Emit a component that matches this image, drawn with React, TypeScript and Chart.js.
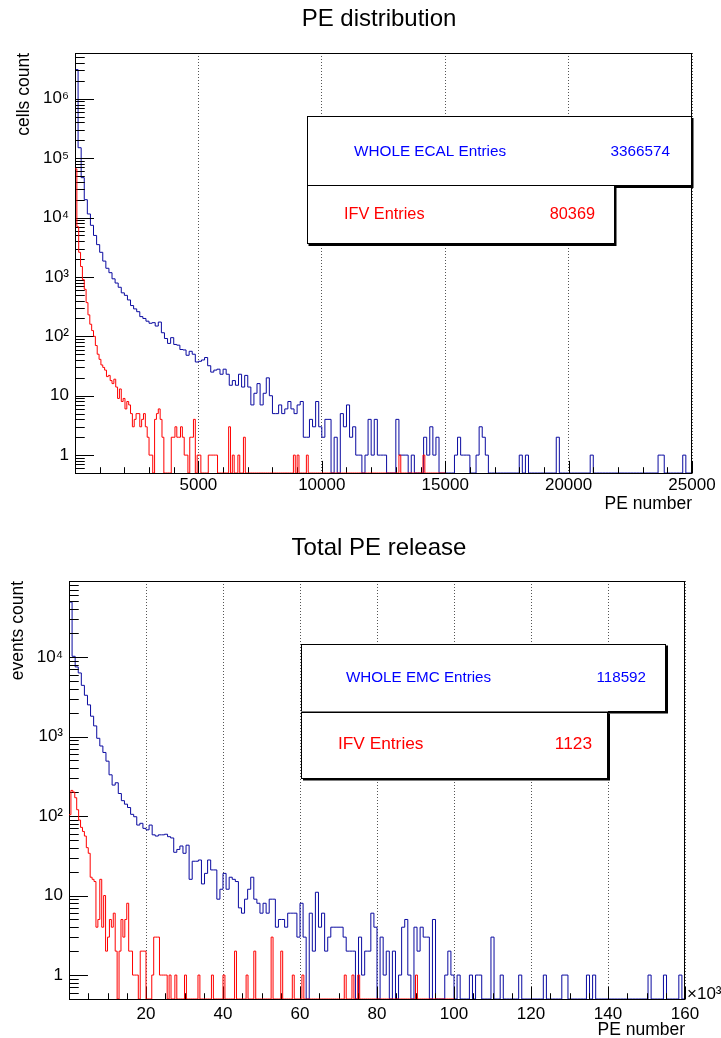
import React, { useEffect, useRef } from 'react';
import { Chart, registerables } from 'chart.js';

Chart.register(...registerables);

// ---------------- DATA ----------------
const topTitle = 'PE distribution';
const bottomTitle = 'Total PE release';

// bin widths (PE per bin)
const topBlueBinWidth = 125; // 0 .. 25000
const topRedBinWidth = 75; // 0 .. 15000
const bottomBlueBinWidth = 800; // 0 .. 160000
const bottomRedBinWidth = 500; // 0 .. 100000

const topBlueCounts = [
  3100000, 150000, 47000, 20000, 11500, 7400, 5000, 3500, 2600, 1850,
  1400, 1180, 930, 790, 670, 540, 490, 410, 330, 290,
  260, 215, 200, 180, 166, 170, 149, 174, 115, 92,
  76, 95, 73, 71, 60, 59, 48, 56, 50, 37,
  38, 40, 44, 32, 25, 27, 28, 23, 28, 23,
  15, 18, 15, 23, 14, 22, 14, 7, 11, 16,
  7, 11, 20, 10, 5, 5, 7, 5, 6, 8,
  6, 5, 7, 8, 2, 2, 4, 3, 8, 3,
  2, 4, 4, 0, 2, 0, 5, 3, 7, 2,
  3, 1, 1, 0, 1, 4, 1, 4, 1, 1,
  1, 0, 0, 0, 4, 1, 1, 1, 0, 1,
  0, 0, 0, 2, 1, 3, 1, 2, 0, 0,
  0, 0, 0, 1, 2, 1, 1, 1, 0, 0,
  1, 3, 2, 1, 0, 0, 0, 0, 0, 0,
  0, 0, 0, 0, 1, 0, 1, 0, 0, 0,
  0, 0, 0, 0, 0, 0, 2, 0, 0, 0,
  0, 0, 0, 0, 0, 0, 0, 1, 0, 0,
  0, 0, 0, 0, 0, 0, 0, 0, 0, 0,
  0, 0, 0, 0, 0, 0, 0, 0, 0, 1,
  1, 0, 0, 0, 0, 0, 0, 1, 0, 0,
];

const topRedCounts = [
  66000, 7000, 2600, 1500, 900, 620, 370, 230, 160, 125,
  100, 70, 50, 41, 33, 30, 27, 21, 22, 18,
  16, 19, 14, 9, 13, 8, 9, 6, 8, 7,
  5, 3, 4, 5, 5, 3, 4, 5, 3, 2,
  1, 1, 0, 4, 5, 6, 4, 2, 0, 0,
  0, 0, 2, 2, 3, 2, 2, 3, 2, 1,
  1, 0, 2, 2, 4, 0, 1, 1, 0, 0,
  0, 0, 1, 1, 1, 1, 1, 0, 0, 0,
  0, 0, 0, 3, 0, 1, 0, 0, 1, 0,
  0, 2, 0, 0, 0, 0, 0, 0, 0, 0,
  0, 0, 0, 0, 0, 0, 0, 0, 0, 0,
  0, 0, 0, 0, 0, 0, 0, 0, 1, 0,
  1, 0, 0, 0, 0, 1, 0, 0, 0, 0,
  0, 0, 0, 0, 0, 0, 0, 0, 0, 0,
  0, 0, 0, 0, 0, 0, 0, 0, 0, 0,
  0, 0, 0, 0, 0, 0, 0, 0, 0, 0,
  0, 0, 0, 0, 0, 0, 0, 0, 0, 0,
  0, 0, 0, 0, 0, 1, 0, 0, 0, 0,
  0, 0, 0, 0, 0, 0, 0, 0, 1, 0,
  0, 0, 0, 0, 0, 0, 0, 0, 0, 0,
];

const bottomBlueCounts = [
  49000, 10200, 7500, 6300, 4400, 3300, 2500, 1800, 1360, 950,
  760, 630, 490, 330, 245, 262, 192, 156, 141, 128,
  105, 98, 77, 81, 70, 67, 77, 58, 56, 58,
  58, 59, 55, 53, 35, 38, 42, 34, 43, 16,
  27, 27, 28, 14, 19, 28, 21, 21, 9, 12,
  19, 12, 17, 16, 15, 7, 6, 9, 12, 17,
  9, 8, 6, 8, 6, 9, 9, 4, 5, 5,
  4, 6, 6, 6, 3, 8, 3, 0, 6, 2,
  11, 4, 6, 2, 3, 4, 4, 4, 4, 3,
  2, 2, 2, 0, 3, 1, 2, 2, 6, 4,
  0, 3, 1, 2, 0, 2, 0, 1, 4, 5,
  1, 0, 4, 2, 4, 3, 3, 0, 5, 0,
  0, 0, 1, 2, 1, 0, 1, 0, 0, 0,
  1, 0, 1, 1, 0, 0, 0, 3, 0, 0,
  1, 0, 0, 0, 0, 0, 1, 0, 0, 0,
  0, 0, 0, 0, 1, 0, 0, 0, 0, 0,
  1, 1, 0, 0, 0, 0, 0, 0, 1, 0,
  1, 0, 0, 0, 0, 0, 0, 0, 0, 0,
  0, 0, 0, 0, 0, 0, 0, 0, 1, 0,
  0, 0, 0, 1, 0, 0, 0, 0, 1, 0,
];

const bottomRedCounts = [
  104, 210, 200, 170, 120, 89, 72, 64, 56, 40,
  34, 17, 16, 15, 4, 5, 16, 4, 10, 2,
  3, 5, 4, 6, 2, 0, 2, 5, 3, 5,
  8, 2, 2, 1, 1, 1, 0, 2, 2, 2,
  0, 0, 0, 1, 3, 3, 3, 1, 1, 1,
  1, 0, 1, 0, 0, 1, 0, 0, 0, 0,
  1, 0, 0, 0, 0, 0, 0, 1, 0, 0,
  0, 0, 0, 0, 1, 0, 0, 0, 0, 0,
  1, 0, 0, 0, 0, 0, 2, 0, 0, 0,
  0, 0, 1, 0, 0, 0, 2, 0, 0, 0,
  0, 0, 0, 0, 0, 3, 0, 0, 0, 0,
  2, 0, 0, 0, 0, 0, 1, 0, 0, 0,
  0, 1, 0, 0, 0, 0, 0, 0, 0, 0,
  0, 0, 0, 0, 0, 0, 0, 0, 0, 0,
  0, 0, 0, 1, 0, 0, 0, 1, 0, 0,
  1, 0, 0, 0, 0, 0, 0, 0, 0, 0,
  0, 0, 0, 0, 0, 0, 0, 0, 0, 0,
  0, 0, 0, 0, 0, 0, 0, 0, 0, 0,
  1, 0, 0, 0, 0, 0, 0, 0, 0, 0,
  0, 0, 0, 0, 0, 0, 0, 0, 0, 0,
];

const topXTicks = [5000, 10000, 15000, 20000, 25000];
const topXTickLabels = ['5000', '10000', '15000', '20000', '25000'];
const topYTicks = [1, 10, 100, 1000, 10000, 100000, 1000000];
const topYTickLabels = ['1', '10', '10²', '10³', '10⁴', '10⁵', '10⁶'];

const bottomXTicks = [20000, 40000, 60000, 80000, 100000, 120000, 140000, 160000];
const bottomXTickLabels = ['20', '40', '60', '80', '100', '120', '140', '160'];
const bottomYTicks = [1, 10, 100, 1000, 10000];
const bottomYTickLabels = ['1', '10', '10²', '10³', '10⁴'];

const topLegendLabels = ['WHOLE ECAL Entries', 'IFV Entries'];
const topLegendValues = ['3366574', '80369'];
const bottomLegendLabels = ['WHOLE EMC Entries', 'IFV Entries'];
const bottomLegendValues = ['118592', '1123'];

// ---------------- STYLE ----------------
const FONT = "'Liberation Sans', Arial, Helvetica, sans-serif";
const HIST_BLUE = '#0a0aa0';
const HIST_RED = '#ff0000';
const TEXT_BLUE = '#0000ff';
const TEXT_RED = '#ff0000';
const W = 721;
const H = 519;

type Box = { x: number; y: number; w: number; h: number; font: number; labelX: number; valueRight: number; textY: number; color: string };

type Panel = {
  title: string; titleX: number; titleY: number; titleSize: number;
  blue: number[]; red: number[]; blueWidth: number; redWidth: number;
  xMax: number; yMin: number; yMax: number;
  xTicks: number[]; xTickLabels: string[]; yTicks: number[]; yTickLabels: string[];
  xMajorStep: number; xMinorStep: number;
  frame: { left: number; right: number; top: number; bottom: number };
  xLabelPad: number; yLabelPad: number;
  yTitle: string; yTitlePad: number;
  xTitle: string; xTitleLH: number; xTitlePad: number;
  legendLabels: string[]; legendValues: string[]; boxes: Box[];
  exponent: boolean;
};

const topPanel: Panel = {
  title: topTitle, titleX: 379, titleY: 19, titleSize: 24,
  blue: topBlueCounts, red: topRedCounts, blueWidth: topBlueBinWidth, redWidth: topRedBinWidth,
  xMax: 25000, yMin: 0.5, yMax: 5.9e6,
  xTicks: topXTicks, xTickLabels: topXTickLabels, yTicks: topYTicks, yTickLabels: topYTickLabels,
  xMajorStep: 5000, xMinorStep: 1000,
  frame: { left: 75, right: 692, top: 53, bottom: 473 },
  xLabelPad: 2, yLabelPad: 6,
  yTitle: 'cells count', yTitlePad: 13.8,
  xTitle: 'PE number', xTitleLH: 1.2, xTitlePad: 4.8,
  legendLabels: topLegendLabels, legendValues: topLegendValues,
  boxes: [
    { x: 306.5, y: 116, w: 385, h: 70, font: 15.3, labelX: 354, valueRight: 670, textY: 151.5, color: TEXT_BLUE },
    { x: 306.5, y: 185, w: 308, h: 59, font: 16.3, labelX: 344, valueRight: 595, textY: 215, color: TEXT_RED },
  ],
  exponent: false,
};

const bottomPanel: Panel = {
  title: bottomTitle, titleX: 379, titleY: 29, titleSize: 24,
  blue: bottomBlueCounts, red: bottomRedCounts, blueWidth: bottomBlueBinWidth, redWidth: bottomRedBinWidth,
  xMax: 160000, yMin: 0.5, yMax: 9.03e4,
  xTicks: bottomXTicks, xTickLabels: bottomXTickLabels, yTicks: bottomYTicks, yTickLabels: bottomYTickLabels,
  xMajorStep: 20000, xMinorStep: 5000,
  frame: { left: 69, right: 685, top: 62, bottom: 480 },
  xLabelPad: 4.8, yLabelPad: 6,
  yTitle: 'events count', yTitlePad: 7.3,
  xTitle: 'PE number', xTitleLH: 0.8, xTitlePad: 0.5,
  legendLabels: bottomLegendLabels, legendValues: bottomLegendValues,
  boxes: [
    { x: 301, y: 124.5, w: 365, h: 68, font: 15.2, labelX: 346, valueRight: 646, textY: 158.7, color: TEXT_BLUE },
    { x: 301, y: 192.5, w: 307, h: 67, font: 17.3, labelX: 338, valueRight: 592, textY: 225.5, color: TEXT_RED },
  ],
  exponent: true,
};

function histPoints(values: number[], width: number, yMin: number) {
  const pts = values.map((v, i) => ({ x: i * width, y: v > 0 ? v : yMin }));
  const last = values[values.length - 1];
  pts.push({ x: values.length * width, y: last > 0 ? last : yMin });
  return pts;
}

function drawAxes(chart: any, p: Panel) {
  const ctx = chart.ctx;
  const { left, right, top, bottom } = chart.chartArea;
  const xs = chart.scales.x;
  const ys = chart.scales.y;
  const L = Math.round(left) + 0.5;
  const R = Math.round(right) - 0.5;
  const T = Math.round(top) + 0.5;
  const B = Math.round(bottom) + 0.5;
  const fw = right - left;
  const fh = bottom - top;
  const yMajorLen = 0.03 * fw;
  const yMinorLen = 0.015 * fw;
  const xMajorLen = 0.03 * fh;
  const xMinorLen = 0.015 * fh;
  ctx.save();
  ctx.strokeStyle = '#000';
  ctx.lineWidth = 1;
  ctx.setLineDash([]);
  ctx.beginPath();
  const d0 = Math.floor(Math.log10(p.yMin));
  const d1 = Math.ceil(Math.log10(p.yMax));
  for (let d = d0; d <= d1; d++) {
    for (let k = 1; k <= 9; k++) {
      const v = k * Math.pow(10, d);
      if (v < p.yMin || v > p.yMax) continue;
      const y = Math.round(ys.getPixelForValue(v)) + 0.5;
      const len = k === 1 ? yMajorLen : yMinorLen;
      ctx.moveTo(L, y);
      ctx.lineTo(L + len, y);
    }
  }
  for (let i = 0; i * p.xMinorStep <= p.xMax; i++) {
    const v = i * p.xMinorStep;
    const x = Math.round(xs.getPixelForValue(v)) + 0.5;
    const len = v % p.xMajorStep === 0 ? xMajorLen : xMinorLen;
    ctx.moveTo(x, B);
    ctx.lineTo(x, B - len);
  }
  ctx.stroke();
  ctx.strokeRect(L, T, R - L, B - T);
  ctx.restore();
}

function drawOverlay(chart: any, p: Panel) {
  const ctx = chart.ctx;
  ctx.save();
  p.boxes.forEach((b, i) => {
    ctx.fillStyle = '#000';
    ctx.fillRect(b.x + 2, b.y + 2, b.w, b.h);
    ctx.fillStyle = '#fff';
    ctx.fillRect(b.x, b.y, b.w, b.h);
    ctx.strokeStyle = '#000';
    ctx.lineWidth = 1;
    ctx.strokeRect(Math.round(b.x) + 0.5, Math.round(b.y) + 0.5, Math.round(b.w) - 1, Math.round(b.h) - 1);
    ctx.font = `${b.font}px ${FONT}`;
    ctx.fillStyle = b.color;
    ctx.textBaseline = 'middle';
    ctx.textAlign = 'left';
    ctx.fillText(p.legendLabels[i], b.labelX, b.textY);
    ctx.textAlign = 'right';
    ctx.fillText(p.legendValues[i], b.valueRight, b.textY);
  });
  ctx.fillStyle = '#000';
  ctx.font = `${p.titleSize}px ${FONT}`;
  ctx.textAlign = 'center';
  ctx.textBaseline = 'middle';
  ctx.fillText(p.title, p.titleX, p.titleY);
  if (p.exponent) {
    ctx.font = `17px ${FONT}`;
    ctx.textAlign = 'left';
    ctx.textBaseline = 'alphabetic';
    ctx.fillText('×10³', p.frame.right + 2, p.frame.bottom - 0.5);
  }
  ctx.restore();
}

function makeDecor(p: Panel) {
  return {
    id: 'rootDecor',
    beforeDatasetDraw(chart: any, args: any) {
      if (args.index === 1) drawAxes(chart, p);
    },
    afterDraw(chart: any) {
      drawOverlay(chart, p);
    },
  };
}

function buildConfig(p: Panel): any {
  const tickFont = { family: FONT, size: 17 };
  return {
    type: 'line',
    data: {
      datasets: [
        {
          label: 'whole',
          data: histPoints(p.blue, p.blueWidth, p.yMin),
          borderColor: HIST_BLUE,
          borderWidth: 1,
          pointRadius: 0,
          stepped: 'before',
          fill: false,
          order: 2,
        },
        {
          label: 'IFV',
          data: histPoints(p.red, p.redWidth, p.yMin),
          borderColor: HIST_RED,
          borderWidth: 1,
          pointRadius: 0,
          stepped: 'before',
          fill: false,
          order: 1,
        },
      ],
    },
    options: {
      animation: false,
      responsive: false,
      devicePixelRatio: 1,
      parsing: false,
      events: [],
      layout: { padding: { left: 0, right: W - p.frame.right, top: p.frame.top, bottom: 0 } },
      plugins: { legend: { display: false }, tooltip: { enabled: false }, title: { display: false } },
      scales: {
        x: {
          type: 'linear',
          min: 0,
          max: p.xMax,
          afterBuildTicks: (s: any) => {
            s.ticks = p.xTicks.map((v) => ({ value: v }));
          },
          afterFit: (s: any) => {
            s.height = H - p.frame.bottom;
          },
          ticks: {
            callback: (_v: any, i: number) => p.xTickLabels[i],
            font: tickFont,
            color: '#000',
            padding: p.xLabelPad,
            maxRotation: 0,
            minRotation: 0,
            autoSkip: false,
          },
          grid: { display: true, drawOnChartArea: true, drawTicks: false, color: '#555', lineWidth: 1 },
          border: { display: false, dash: [1, 2] },
          title: {
            display: true,
            text: p.xTitle,
            align: 'end',
            color: '#000',
            font: { family: FONT, size: 17.5, lineHeight: p.xTitleLH },
            padding: { top: 0, bottom: p.xTitlePad },
          },
        },
        y: {
          type: 'logarithmic',
          min: p.yMin,
          max: p.yMax,
          afterBuildTicks: (s: any) => {
            s.ticks = p.yTicks.map((v) => ({ value: v, major: true }));
          },
          afterFit: (s: any) => {
            s.width = p.frame.left;
          },
          ticks: {
            callback: (_v: any, i: number) => p.yTickLabels[i],
            font: tickFont,
            color: '#000',
            padding: p.yLabelPad,
            autoSkip: false,
          },
          grid: { display: false, drawTicks: false },
          border: { display: false },
          title: {
            display: true,
            text: p.yTitle,
            align: 'end',
            color: '#000',
            font: { family: FONT, size: 17.5, lineHeight: 1.2 },
            padding: { top: p.yTitlePad, bottom: 0 },
          },
        },
      },
    },
    plugins: [makeDecor(p)],
  };
}

function PanelChart({ panel, top }: { panel: Panel; top: number }) {
  const ref = useRef<HTMLCanvasElement>(null);
  useEffect(() => {
    const chart = new Chart(ref.current as HTMLCanvasElement, buildConfig(panel));
    return () => chart.destroy();
  }, [panel]);
  return (
    <canvas
      ref={ref}
      width={W}
      height={H}
      style={{ position: 'absolute', left: 0, top, width: W, height: H, display: 'block' }}
    />
  );
}

export default function App() {
  return (
    <div style={{ position: 'absolute', left: 0, top: 0, width: W, height: 2 * H, background: '#fff', overflow: 'hidden' }}>
      <PanelChart panel={topPanel} top={0} />
      <PanelChart panel={bottomPanel} top={H} />
    </div>
  );
}
